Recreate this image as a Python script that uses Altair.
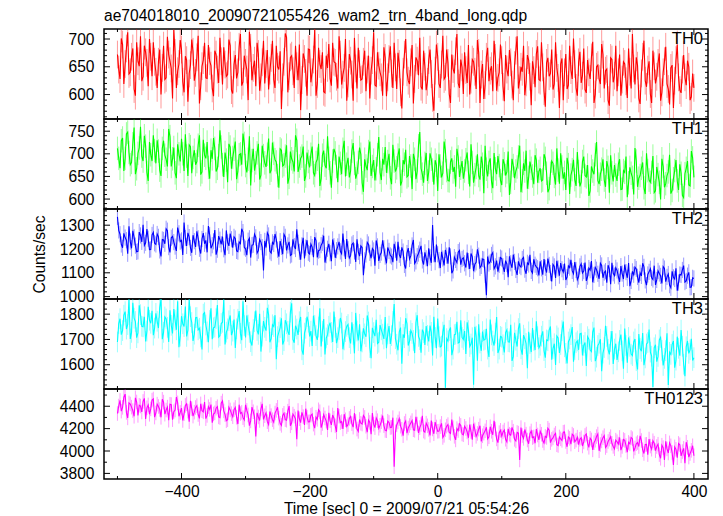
import altair as alt
import pandas as pd

FONT = "Liberation Sans"

title_text = "ae704018010_20090721055426_wam2_trn_4band_long.qdp"
x_title = "Time [sec] 0 = 2009/07/21 05:54:26"
names = ["TH0", "TH1", "TH2", "TH3", "TH0123"]
colors = ["#ff0000", "#00ff00", "#0000ff", "#00ffff", "#ff00ff"]

# time bins (sec): "a" values at -500, -496, ..., 400 ; "b" values at -498, -494, ..., 398
times_a = list(range(-500, 401, 4))
times_b = list(range(-498, 399, 4))

th0_a = [
    672, 628, 690, 655, 712, 640, 683, 598, 660, 705, 632, 676, 615, 668, 694,
    641, 659, 600, 688, 630, 672, 647, 716, 612, 655, 681, 604, 662, 638, 699,
    625, 667, 584, 651, 693, 629, 660, 611, 679, 645, 702, 618, 654, 636, 688,
    602, 671, 640, 709, 623, 657, 590, 684, 648, 615, 673, 631, 697, 655, 609,
    666, 627, 688, 645, 574, 659, 703, 633, 670, 612, 651, 690, 626, 664, 598,
    681, 640, 717, 619, 655, 676, 603, 648, 629, 693, 657, 611, 672, 636, 700,
    620, 661, 589, 647, 684, 626, 659, 606, 670, 643, 712, 615, 652, 631, 685,
    597, 664, 638, 693, 610, 655, 575, 672, 640, 619, 689, 628, 661, 702, 609,
    650, 623, 681, 594, 643, 668, 612, 706, 632, 657, 585, 646, 678, 620, 663,
    601, 644, 689, 627, 659, 610, 675, 636, 592, 668, 624, 651, 697, 607, 640,
    662, 588, 645, 680, 618, 653, 705, 626, 641, 599, 671, 632, 660, 613, 687,
    625, 649, 578, 666, 638, 609, 694, 630, 655, 590, 673, 617, 644, 701, 612,
    658, 621, 683, 603, 640, 667, 585, 650, 628, 691, 611, 646, 580, 663, 634,
    606, 672, 627, 655, 594, 641, 709, 618, 652, 583, 668, 625, 645, 601, 679,
    620, 657, 589, 640, 686, 610, 648, 576, 662, 631, 603, 671, 617, 650, 596,
    612,
]
th0_b = [
    645, 701, 619, 683, 637, 668, 610, 694, 651, 624, 688, 657, 700, 633, 659,
    612, 681, 648, 627, 704, 660, 593, 675, 642, 698, 623, 669, 587, 653, 677,
    639, 706, 615, 662, 630, 689, 652, 597, 672, 621, 660, 685, 633, 699, 608,
    654, 629, 686, 616, 670, 645, 713, 626, 661, 693, 607, 658, 620, 680, 643,
    697, 612, 650, 678, 631, 710, 604, 667, 642, 688, 626, 572, 674, 639, 682,
    622, 663, 598, 684, 646, 605, 670, 691, 616, 659, 632, 705, 618, 648, 589,
    673, 636, 702, 611, 655, 628, 679, 645, 593, 662, 617, 676, 640, 598, 666,
    631, 687, 612, 649, 675, 604, 641, 700, 625, 658, 584, 667, 635, 614, 679,
    608, 662, 637, 571, 690, 619, 654, 628, 681, 601, 672, 638, 709, 612, 649,
    676, 621, 600, 663, 641, 698, 585, 655, 617, 684, 643, 606, 666, 630, 690,
    614, 671, 633, 658, 590, 679, 611, 650, 688, 622, 662, 581, 644, 673, 627,
    694, 606, 657, 633, 681, 619, 648, 576, 665, 640, 610, 688, 628, 655, 598,
    677, 634, 609, 662, 628, 695, 600, 653, 619, 672, 643, 590, 666, 622, 688,
    640, 598, 659, 624, 683, 611, 647, 667, 593, 638, 697, 614, 660, 585, 651,
    632, 674, 604, 660, 619, 582, 653, 625, 690, 608, 645, 631, 661, 590, 638,
]

th1_a = [
    712, 668, 735, 690, 748, 676, 722, 655, 701, 760, 684, 717, 640, 698, 741,
    679, 706, 651, 729, 688, 755, 672, 714, 646, 700, 733, 662, 695, 720, 657,
    708, 683, 741, 660, 697, 726, 645, 689, 712, 668, 752, 676, 703, 637, 715,
    692, 727, 661, 700, 745, 674, 688, 630, 711, 680, 722, 653, 696, 671, 734,
    664, 701, 682, 625, 708, 676, 719, 648, 689, 661, 730, 673, 695, 640, 703,
    670, 716, 652, 688, 629, 697, 675, 739, 658, 684, 702, 637, 679, 710, 650,
    691, 662, 724, 645, 681, 699, 616, 673, 705, 651, 686, 667, 737, 642, 676,
    658, 700, 633, 684, 669, 712, 639, 677, 649, 695, 622, 688, 662, 748, 655,
    679, 640, 701, 664, 686, 618, 673, 657, 707, 641, 682, 660, 627, 693, 668,
    645, 687, 659, 721, 636, 670, 652, 694, 613, 666, 681, 639, 702, 655, 674,
    631, 678, 660, 609, 689, 646, 671, 718, 640, 662, 623, 683, 651, 697, 636,
    668, 642, 690, 615, 657, 679, 632, 664, 701, 645, 620, 676, 653, 687, 629,
    661, 638, 694, 649, 607, 672, 655, 726, 633, 666, 642, 684, 614, 658, 675,
    640, 688, 622, 659, 604, 670, 648, 713, 627, 652, 681, 611, 663, 637, 695,
    618, 654, 599, 672, 634, 660, 612, 645, 686, 620, 657, 603, 668, 631, 706,
    648,
]
th1_b = [
    690, 729, 662, 744, 703, 681, 758, 667, 713, 695, 740, 659, 726, 684, 707,
    730, 664, 712, 697, 672, 738, 689, 658, 721, 683, 700, 743, 651, 716, 692,
    676, 719, 654, 731, 690, 670, 708, 735, 661, 696, 715, 649, 686, 722, 667,
    710, 644, 698, 676, 723, 659, 739, 685, 663, 702, 643, 718, 680, 699, 657,
    725, 687, 652, 711, 673, 695, 634, 705, 682, 741, 660, 690, 716, 651, 683,
    699, 658, 681, 722, 645, 707, 668, 690, 625, 711, 672, 694, 655, 729, 677,
    648, 706, 679, 657, 714, 636, 688, 664, 727, 672, 641, 698, 659, 689, 715,
    683, 647, 720, 661, 697, 630, 686, 709, 652, 673, 700, 644, 718, 668, 636,
    702, 660, 688, 632, 675, 699, 648, 727, 663, 640, 690, 671, 711, 649, 684,
    662, 703, 628, 681, 654, 699, 643, 677, 718, 650, 690, 624, 667, 695, 641,
    688, 652, 705, 637, 674, 662, 693, 615, 679, 707, 648, 668, 633, 686, 661,
    640, 699, 657, 623, 684, 650, 712, 634, 671, 659, 691, 611, 665, 643, 704,
    628, 683, 652, 675, 618, 662, 698, 641, 655, 688, 627, 670, 697, 639, 653,
    677, 621, 663, 694, 636, 657, 610, 684, 646, 668, 625, 701, 642, 659, 614,
    671, 637, 689, 626, 652, 698, 619, 663, 640, 677, 608, 656, 684, 629, 691,
]

th2_a = [
    1335, 1262, 1205, 1248, 1180, 1231, 1276, 1214, 1190, 1257, 1302, 1226, 1243, 1198, 1270,
    1219, 1251, 1169, 1238, 1285, 1208, 1247, 1229, 1192, 1266, 1236, 1311, 1213, 1250, 1184,
    1233, 1274, 1201, 1242, 1222, 1186, 1259, 1216, 1280, 1197, 1239, 1252, 1174, 1228, 1265,
    1206, 1244, 1189, 1223, 1271, 1201, 1235, 1164, 1218, 1249, 1193, 1229, 1110, 1206, 1257,
    1183, 1221, 1240, 1168, 1209, 1262, 1194, 1230, 1177, 1212, 1283, 1188, 1215, 1160, 1237,
    1179, 1208, 1250, 1165, 1196, 1226, 1143, 1201, 1182, 1240, 1163, 1211, 1190, 1265, 1158,
    1199, 1172, 1225, 1146, 1188, 1213, 1090, 1177, 1219, 1161, 1194, 1236, 1150, 1185, 1203,
    1140, 1192, 1168, 1222, 1151, 1176, 1207, 1133, 1183, 1158, 1215, 1139, 1170, 1197, 1152,
    1186, 1128, 1165, 1301, 1145, 1178, 1120, 1160, 1196, 1138, 1169, 1110, 1154, 1187, 1134,
    1163, 1122, 1149, 1181, 1107, 1144, 1172, 1129, 1156, 1006, 1139, 1175, 1117, 1151, 1133,
    1160, 1104, 1137, 1169, 1121, 1146, 1091, 1130, 1158, 1113, 1142, 1176, 1099, 1134, 1119,
    1148, 1092, 1121, 1160, 1099, 1135, 1078, 1118, 1141, 1103, 1070, 1129, 1155, 1096, 1112,
    1084, 1138, 1107, 1066, 1120, 1149, 1091, 1113, 1075, 1131, 1101, 1058, 1116, 1142, 1088,
    1110, 1062, 1097, 1135, 1079, 1044, 1106, 1124, 1083, 1100, 1140, 1068, 1093, 1117, 1072,
    1049, 1108, 1087, 1126, 1063, 1095, 1037, 1081, 1119, 1059, 1091, 1130, 1066, 1102, 1040,
    1076,
]
th2_b = [
    1278, 1219, 1266, 1237, 1295, 1203, 1249, 1188, 1271, 1230, 1215, 1284, 1197, 1259, 1224,
    1263, 1194, 1240, 1222, 1277, 1186, 1253, 1210, 1290, 1231, 1175, 1246, 1268, 1205, 1258,
    1209, 1245, 1181, 1267, 1236, 1296, 1203, 1232, 1176, 1254, 1220, 1199, 1278, 1213, 1241,
    1251, 1192, 1230, 1285, 1207, 1174, 1245, 1216, 1262, 1183, 1240, 1208, 1234, 1268, 1190,
    1228, 1263, 1197, 1233, 1178, 1251, 1215, 1173, 1241, 1200, 1226, 1155, 1247, 1206, 1184,
    1221, 1166, 1235, 1193, 1216, 1256, 1174, 1222, 1149, 1212, 1195, 1230, 1180, 1203, 1242,
    1162, 1219, 1190, 1241, 1170, 1206, 1152, 1228, 1184, 1202, 1130, 1211, 1175, 1236, 1168,
    1206, 1173, 1145, 1197, 1230, 1162, 1189, 1118, 1204, 1171, 1238, 1148, 1181, 1213, 1135,
    1161, 1203, 1142, 1178, 1219, 1153, 1188, 1131, 1172, 1207, 1098, 1166, 1143, 1194, 1158,
    1140, 1185, 1116, 1167, 1136, 1199, 1121, 1158, 1092, 1168, 1146, 1185, 1127, 1105, 1164,
    1127, 1151, 1082, 1140, 1177, 1112, 1148, 1124, 1165, 1096, 1135, 1108, 1157, 1125, 1089,
    1119, 1158, 1101, 1133, 1064, 1127, 1150, 1088, 1115, 1139, 1082, 1122, 1108, 1145, 1071,
    1127, 1099, 1143, 1084, 1111, 1060, 1123, 1096, 1140, 1079, 1107, 1132, 1052, 1098, 1121,
    1085, 1128, 1074, 1103, 1141, 1066, 1092, 1116, 1059, 1087, 1125, 1048, 1104, 1079, 1130,
    1070, 1097, 1055, 1118, 1083, 1048, 1106, 1074, 1025, 1093, 1112, 1061, 1088, 1039, 1079,
]

th3_a = [
    1690, 1782, 1735, 1810, 1759, 1702, 1845, 1771, 1726, 1798, 1750, 1692, 1829, 1764, 1717,
    1803, 1745, 1859, 1728, 1781, 1690, 1756, 1820, 1738, 1669, 1792, 1751, 1712, 1858, 1767,
    1721, 1787, 1744, 1660, 1806, 1730, 1775, 1701, 1749, 1836, 1715, 1768, 1680, 1742, 1795,
    1733, 1666, 1780, 1724, 1851, 1708, 1757, 1691, 1739, 1814, 1720, 1652, 1773, 1735, 1797,
    1703, 1751, 1622, 1729, 1784, 1695, 1762, 1718, 1843, 1687, 1741, 1770, 1659, 1725, 1790,
    1712, 1674, 1756, 1698, 1823, 1733, 1641, 1719, 1766, 1690, 1748, 1707, 1785, 1661, 1731,
    1759, 1684, 1720, 1805, 1696, 1653, 1744, 1711, 1769, 1626, 1727, 1778, 1689, 1738, 1702,
    1665, 1753, 1715, 1840, 1681, 1730, 1604, 1707, 1762, 1693, 1724, 1646, 1796, 1699, 1739,
    1678, 1716, 1755, 1637, 1708, 1783, 1670, 1729, 1509, 1694, 1747, 1662, 1721, 1686, 1776,
    1700, 1643, 1735, 1682, 1521, 1713, 1760, 1655, 1697, 1742, 1631, 1718, 1676, 1789, 1662,
    1709, 1649, 1738, 1690, 1615, 1726, 1672, 1764, 1640, 1703, 1586, 1684, 1745, 1658, 1711,
    1677, 1732, 1628, 1695, 1751, 1664, 1599, 1706, 1680, 1771, 1645, 1690, 1719, 1612, 1687,
    1659, 1724, 1676, 1595, 1701, 1652, 1747, 1630, 1685, 1574, 1668, 1712, 1641, 1733, 1662,
    1619, 1696, 1655, 1743, 1608, 1673, 1636, 1702, 1581, 1664, 1725, 1627, 1688, 1650, 1512,
    1679, 1633, 1708, 1597, 1656, 1520, 1641, 1694, 1618, 1665, 1737, 1602, 1671, 1645, 1703,
    1628,
]
th3_b = [
    1763, 1719, 1796, 1741, 1858, 1728, 1784, 1707, 1835, 1752, 1790, 1733, 1776, 1813, 1745,
    1772, 1826, 1701, 1789, 1748, 1815, 1724, 1776, 1851, 1713, 1762, 1830, 1737, 1790, 1694,
    1786, 1738, 1710, 1800, 1757, 1689, 1823, 1746, 1782, 1709, 1763, 1857, 1729, 1774, 1717,
    1779, 1742, 1812, 1697, 1755, 1795, 1728, 1676, 1770, 1736, 1802, 1713, 1748, 1825, 1689,
    1758, 1796, 1711, 1747, 1680, 1776, 1732, 1808, 1700, 1754, 1718, 1789, 1640, 1744, 1768,
    1733, 1794, 1715, 1749, 1672, 1781, 1706, 1752, 1728, 1810, 1685, 1739, 1765, 1698, 1752,
    1707, 1768, 1645, 1733, 1760, 1690, 1722, 1795, 1668, 1746, 1713, 1684, 1757, 1721, 1789,
    1722, 1682, 1771, 1703, 1657, 1747, 1720, 1784, 1676, 1735, 1696, 1766, 1712, 1648, 1727,
    1753, 1692, 1728, 1790, 1665, 1711, 1674, 1758, 1703, 1735, 1638, 1719, 1770, 1689, 1708,
    1733, 1768, 1672, 1707, 1750, 1616, 1686, 1731, 1700, 1662, 1779, 1694, 1725, 1646, 1712,
    1679, 1727, 1691, 1758, 1632, 1697, 1743, 1663, 1717, 1684, 1730, 1650, 1696, 1772, 1667,
    1713, 1656, 1698, 1737, 1620, 1683, 1714, 1647, 1735, 1671, 1605, 1702, 1749, 1660, 1694,
    1722, 1637, 1688, 1711, 1658, 1729, 1614, 1676, 1701, 1646, 1754, 1661, 1692, 1603, 1683,
    1651, 1719, 1584, 1676, 1708, 1642, 1690, 1616, 1721, 1653, 1598, 1682, 1739, 1634, 1667,
    1612, 1698, 1657, 1625, 1724, 1649, 1680, 1588, 1711, 1636, 1673, 1555, 1694, 1659, 1617,
]

th0123_a = [
    4335, 4452, 4390, 4508, 4296, 4420, 4361, 4475, 4318, 4402, 4443, 4287, 4412, 4376, 4465,
    4340, 4398, 4301, 4437, 4366, 4275, 4415, 4352, 4482, 4310, 4384, 4333, 4421, 4262, 4379,
    4347, 4405, 4291, 4360, 4438, 4318, 4372, 4253, 4341, 4396, 4299, 4447, 4325, 4280, 4367,
    4306, 4389, 4241, 4335, 4298, 4412, 4322, 4269, 4351, 4130, 4304, 4375, 4283, 4340, 4236,
    4316, 4258, 4363, 4294, 4229, 4337, 4275, 4401, 4252, 4311, 4105, 4288, 4346, 4233, 4302,
    4261, 4330, 4205, 4283, 4351, 4246, 4295, 4188, 4270, 4322, 4225, 4384, 4254, 4197, 4279,
    4236, 4309, 4213, 4265, 4175, 4248, 4318, 4221, 4277, 4150, 4240, 4296, 4203, 4262, 4227,
    4181, 4255, 4212, 3860, 4233, 4289, 4194, 4246, 4160, 4228, 4272, 4185, 4241, 4209, 4315,
    4168, 4225, 4140, 4197, 4259, 4176, 4218, 4121, 4190, 4236, 4157, 4207, 4099, 4183, 4229,
    4145, 4202, 4118, 4174, 4244, 4131, 4195, 4086, 4159, 4212, 4127, 4176, 4270, 4108, 4164,
    4133, 4187, 4082, 4150, 4211, 4104, 4166, 3920, 4138, 4192, 4098, 4155, 4120, 4070, 4143,
    4176, 4094, 4131, 4203, 4075, 4117, 4158, 4049, 4109, 4168, 4085, 4126, 4062, 4139, 4097,
    4056, 4118, 4081, 4152, 4033, 4099, 4074, 4129, 4002, 4090, 4137, 4048, 4106, 4069, 4020,
    4083, 4121, 4041, 4095, 3990, 4064, 4110, 4027, 4076, 4135, 4011, 4058, 3968, 4044, 4092,
    4003, 4061, 3935, 4030, 4087, 3982, 4046, 3875, 4015, 4068, 3957, 4024, 4079, 3946, 4006,
    3958,
]
th0123_b = [
    4402, 4356, 4481, 4345, 4430, 4392, 4310, 4438, 4409, 4349, 4470, 4386, 4328, 4455, 4303,
    4419, 4371, 4462, 4329, 4392, 4418, 4280, 4366, 4430, 4345, 4273, 4407, 4356, 4448, 4312,
    4389, 4326, 4421, 4350, 4289, 4396, 4415, 4331, 4382, 4305, 4428, 4358, 4271, 4391, 4334,
    4369, 4302, 4414, 4345, 4278, 4363, 4227, 4393, 4306, 4341, 4273, 4422, 4315, 4262, 4353,
    4280, 4339, 4391, 4247, 4318, 4280, 4356, 4225, 4330, 4287, 4362, 4254, 4307, 4378, 4260,
    4319, 4240, 4302, 4368, 4209, 4325, 4267, 4341, 4233, 4293, 4170, 4311, 4263, 4329, 4218,
    4291, 4245, 4338, 4196, 4282, 4241, 4300, 4168, 4255, 4339, 4209, 4271, 4230, 4317, 4184,
    4266, 4210, 4298, 4171, 4259, 4222, 4137, 4268, 4205, 4251, 4190, 4305, 4162, 4238, 4178,
    4249, 4193, 4272, 4154, 4215, 4178, 4247, 4140, 4222, 4165, 4280, 4131, 4200, 4243, 4152,
    4221, 4170, 4236, 4102, 4190, 4157, 4226, 4136, 4180, 4108, 4217, 4145, 4196, 4075, 4185,
    4170, 4105, 4198, 4141, 4177, 4090, 4160, 4209, 4113, 4151, 4065, 4179, 4126, 4196, 4099,
    4150, 4071, 4121, 4187, 4104, 4143, 4056, 4126, 4095, 4171, 4038, 4113, 4151, 4083, 4124,
    4105, 4045, 4139, 4070, 4114, 4010, 4096, 4152, 4058, 4119, 4031, 4085, 4128, 4041, 4097,
    4062, 4008, 4103, 4049, 4077, 4121, 3997, 4065, 4040, 4094, 3978, 4060, 4107, 4016, 4070,
    4040, 3968, 4052, 3921, 4019, 4073, 3987, 4037, 3940, 4056, 3995, 3890, 4033, 3978, 4047,
]

series_a = [th0_a, th1_a, th2_a, th3_a, th0123_a]
series_b = [th0_b, th1_b, th2_b, th3_b, th0123_b]
errors = [25, 26, 34, 41, 65]

x_domain = [-521, 422]
x_major = [-400, -200, 0, 200, 400]
x_minor = [-500, -300, -100, 100, 300]

y_domains = [[556, 718], [578, 777], [990, 1368], [1504, 1860], [3750, 4554]]
y_major = [[600, 650, 700], [600, 650, 700, 750], [1000, 1100, 1200, 1300],
           [1600, 1700, 1800], [3800, 4000, 4200, 4400]]
y_minor_step = [10, 10, 20, 20, 100]

W, H = 604, 90
MAJ, MIN = 6, 3
FS = 15.6

panels = []
for i, name in enumerate(names):
    col = colors[i]
    err = errors[i]
    df = pd.DataFrame({"t": times_a + times_b, "v": series_a[i] + series_b[i]})
    df = df.sort_values("t").reset_index(drop=True)
    df["lo"] = df["v"] - err
    df["hi"] = df["v"] + err

    xscale = alt.Scale(domain=x_domain, nice=False, zero=False)
    yscale = alt.Scale(domain=y_domains[i], nice=False, zero=False)
    last = i == len(names) - 1
    if last:
        xaxis = alt.Axis(values=x_major, ticks=False, domain=False, grid=False,
                         labelPadding=5, labelFontSize=FS, title=x_title,
                         titleFontSize=FS, titlePadding=2)
    else:
        xaxis = None
    yaxis = alt.Axis(values=y_major[i], format="d", ticks=False, domain=False,
                     grid=False, labelPadding=10, labelFontSize=FS,
                     minExtent=44, maxExtent=44,
                     title="Counts/sec" if i == 2 else "",
                     titleFontSize=FS, titlePadding=13)

    def X(field):
        return alt.X(field, scale=xscale, axis=xaxis)

    def Y(field):
        return alt.Y(field, scale=yscale, axis=yaxis)

    ebar = alt.Chart(df).mark_rule(color=col, opacity=0.4, strokeWidth=1, clip=True).encode(
        x=X("t:Q"), y=Y("lo:Q"), y2="hi:Q")
    line = alt.Chart(df).mark_line(color=col, strokeWidth=1.1, clip=True).encode(
        x=X("t:Q"), y=Y("v:Q"))

    lo_, hi_ = y_domains[i]
    step = y_minor_step[i]
    y_minor = [v for v in range((lo_ // step + 1) * step, hi_ + 1, step)
               if v not in y_major[i]]

    ticks = []
    for xs, ys, size in [(x_major, y_major[i], MAJ), (x_minor, y_minor, MIN)]:
        dx = pd.DataFrame({"t": xs})
        dy = pd.DataFrame({"v": ys})
        bx = alt.Chart(dx).mark_rule(color="black", strokeWidth=1)
        by = alt.Chart(dy).mark_rule(color="black", strokeWidth=1)
        ticks.append(bx.encode(x=X("t:Q"), y=alt.value(H), y2=alt.value(H - size)))
        ticks.append(bx.encode(x=X("t:Q"), y=alt.value(0), y2=alt.value(size)))
        ticks.append(by.encode(y=Y("v:Q"), x=alt.value(0), x2=alt.value(size)))
        ticks.append(by.encode(y=Y("v:Q"), x=alt.value(W), x2=alt.value(W - size)))

    label = alt.Chart(pd.DataFrame({"label": [name]})).mark_text(
        align="right", baseline="top", fontSize=16.5, font=FONT, color="black"
    ).encode(x=alt.value(W - 5), y=alt.value(2), text="label:N")

    layer = alt.layer(ebar, line, *ticks, label).properties(width=W, height=H)
    if i == 0:
        layer = layer.properties(title=alt.TitleParams(
            title_text, anchor="start", frame="group", fontSize=FS, font=FONT,
            fontWeight="normal", color="black", offset=4))
    panels.append(layer)

chart = alt.vconcat(*panels, spacing=0, bounds="flush").configure(
    padding={"left": 23, "top": 0, "right": 0, "bottom": 0},
    font=FONT,
).configure_view(stroke="black", strokeWidth=1.5).configure_axis(
    labelFont=FONT, titleFont=FONT, labelColor="black", titleColor="black",
    titleFontWeight="normal",
)

chart.save("out.html", embed_options={"renderer": "svg", "actions": False})
